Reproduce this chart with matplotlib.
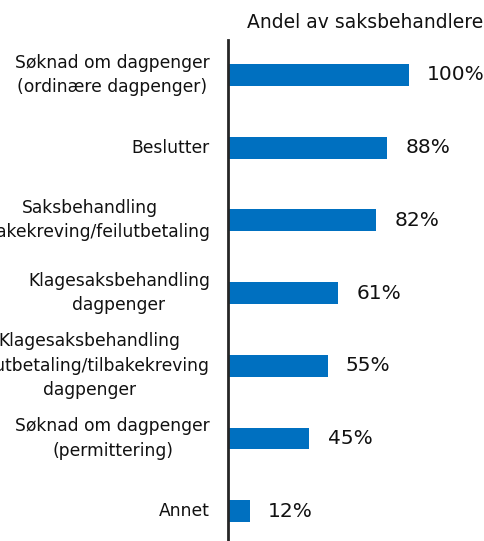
import matplotlib.pyplot as plt

categories = ['Søknad om dagpenger\n(ordinære dagpenger)',
              'Beslutter',
              'Saksbehandling\ntilbakekreving/feilutbetaling',
              'Klagesaksbehandling\ndagpenger',
              'Klagesaksbehandling\nfeilutbetaling/tilbakekreving\ndagpenger',
              'Søknad om dagpenger\n(permittering)',
              'Annet']
values = [100, 88, 82, 61, 55, 45, 12]
title = 'Andel av saksbehandlere'

plt.rcParams['font.family'] = ['DejaVu Sans']

fig = plt.figure(figsize=(4.85, 5.41), dpi=100)
ax = fig.add_axes([228 / 485, 0, 257 / 485, 501 / 541])

pos = list(range(len(categories)))
ax.barh(pos, values, height=0.3, color='#0070C0')
ax.set_xlim(0, 142)
ax.set_ylim(6.41, -0.48)

for i, v in enumerate(values):
    ax.text(v + 10, i, f'{v}%', va='center', ha='left', fontsize=14.5, color='#111111')

for i, c in enumerate(categories):
    ax.text(-10, i, c, va='center', ha='right', multialignment='center',
            fontsize=12.3, linespacing=1.45, color='#111111', clip_on=False)

for s in ['top', 'right', 'bottom']:
    ax.spines[s].set_visible(False)
ax.spines['left'].set_linewidth(2)
ax.spines['left'].set_color('#262626')
ax.set_xticks([])
ax.set_yticks([])

fig.text(483 / 485, 1 - 22 / 541, title, ha='right', va='center', fontsize=13.5, color='#111111')

plt.savefig('out.png', dpi=100)
